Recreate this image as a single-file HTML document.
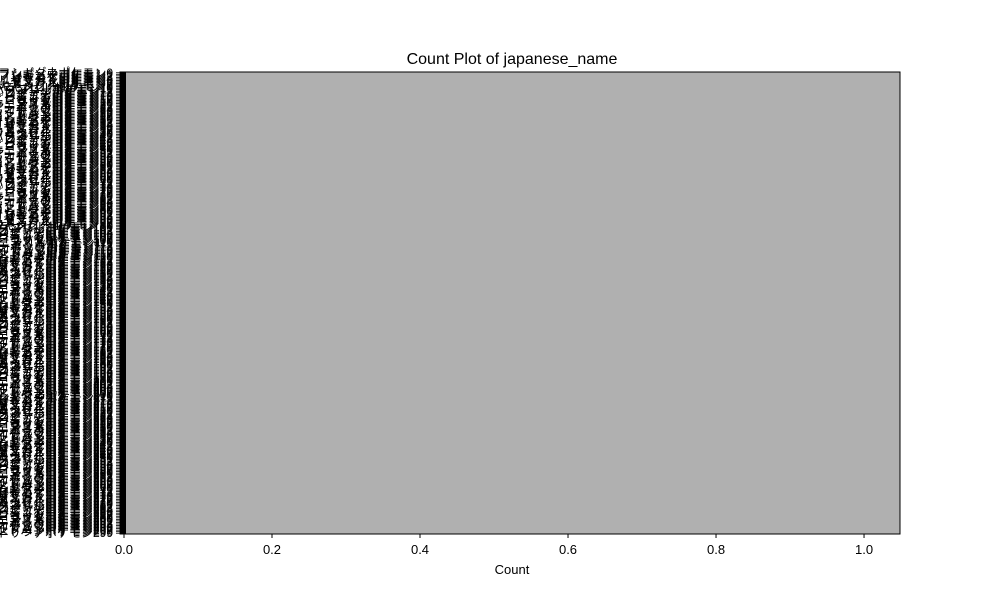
<!DOCTYPE html>
<html><head><meta charset="utf-8"><style>
body{margin:0;background:#fff;}
svg text{font-family:"Liberation Sans","Noto Sans CJK JP",sans-serif;}
</style></head><body>
<svg id="chart" width="1000" height="600" xmlns="http://www.w3.org/2000/svg">
<text x="512" y="64" font-size="16" text-anchor="middle">Count Plot of japanese_name</text>
<g id="labels"></g>
<rect x="120" y="72" width="780" height="462" fill="#b0b0b0"/>
<g id="bars"></g>
<rect x="120" y="72" width="780" height="462" fill="none" stroke="#000" stroke-width="1"/>
<g id="xticks"></g>
<text x="512" y="574" font-size="13" text-anchor="middle">Count</text>
</svg>
<script>
const baseNames = ["フシギダネ","フシギソウ","フシギバナ","ヒトカゲ","リザード","リザードン","ゼニガメ","カメール","カメックス","キャタピー","トランセル","バタフリー","ビードル","コクーン","スピアー","ポッポ","ピジョン","ピジョット","コラッタ","ラッタ","オニスズメ","オニドリル","アーボ","アーボック","ピカチュウ","ライチュウ","サンド","サンドパン","ニドラン","ニドリーナ"];
const categories = [];
for (let i = 0; i < 300; i++) categories.push(baseNames[i % baseNames.length] + "ポケモン" + i);
const counts = categories.map(() => 1);
const xTicks = [0.0, 0.2, 0.4, 0.6, 0.8, 1.0];

const NS = "http://www.w3.org/2000/svg";
const X0 = 120, X1 = 900, Y0 = 72, Y1 = 534;
const xmin = -0.0054, xmax = 1.0486;
const xs = v => X0 + (v - xmin) / (xmax - xmin) * (X1 - X0);
const n = categories.length;
const band = (Y1 - Y0) / n;
const ys = i => Y0 + i * band;

const bars = document.getElementById('bars');
const labels = document.getElementById('labels');
counts.forEach((c, i) => {
  const r = document.createElementNS(NS, 'rect');
  
  
  r.setAttribute('x', xs(0));
  r.setAttribute('y', ys(i));
  r.setAttribute('width', xs(c) - xs(0));
  r.setAttribute('height', band + 0.3);
  r.setAttribute('fill', '#b0b0b0');
  bars.appendChild(r);
  const t = document.createElementNS(NS, 'text');
  
  
  t.setAttribute('x', 113);
  t.setAttribute('y', ys(i) + band / 2 + 4);
  t.setAttribute('font-size', '12');
  t.setAttribute('text-anchor', 'end');
  t.textContent = categories[i];
  labels.appendChild(t);
  const tk = document.createElementNS(NS, 'line');
  
  
  tk.setAttribute('x1', 116); tk.setAttribute('x2', 120);
  tk.setAttribute('y1', ys(i) + band / 2); tk.setAttribute('y2', ys(i) + band / 2);
  tk.setAttribute('stroke', '#000'); tk.setAttribute('stroke-width', '0.8');
  labels.appendChild(tk);
});
const strip = document.createElementNS(NS, 'rect');


strip.setAttribute('x', 120); strip.setAttribute('y', Y0);
strip.setAttribute('width', xs(0) - 120 + 2); strip.setAttribute('height', Y1 - Y0);
strip.setAttribute('fill', '#000');
bars.appendChild(strip);

const xt = document.getElementById('xticks');
xTicks.forEach(v => {
  const l = document.createElementNS(NS, 'line');
  
  
  l.setAttribute('x1', xs(v)); l.setAttribute('x2', xs(v));
  l.setAttribute('y1', Y1); l.setAttribute('y2', Y1 + 4);
  l.setAttribute('stroke', '#000');
  xt.appendChild(l);
  const t = document.createElementNS(NS, 'text');
  
  
  t.setAttribute('x', xs(v)); t.setAttribute('y', Y1 + 20);
  t.setAttribute('font-size', '13'); t.setAttribute('text-anchor', 'middle');
  t.textContent = v.toFixed(1);
  xt.appendChild(t);
});
</script>
</body></html>
